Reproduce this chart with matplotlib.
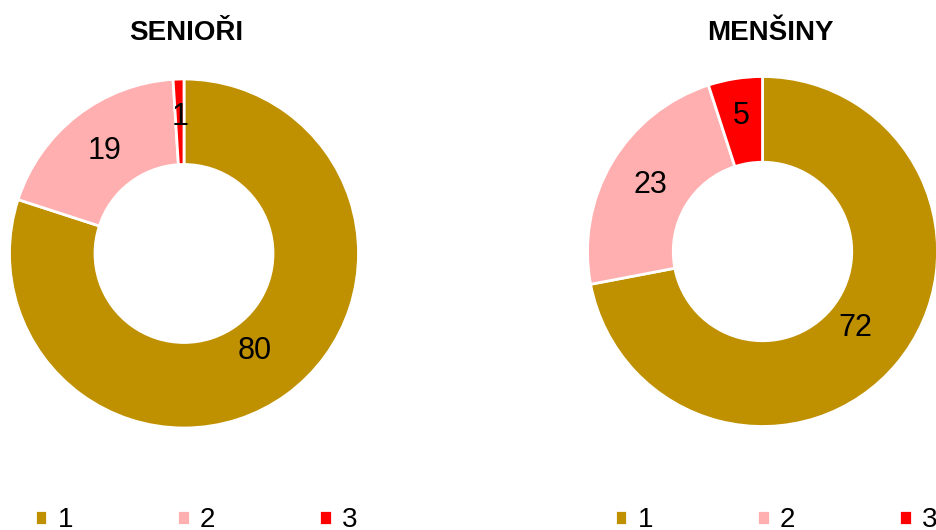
import numpy as np
import matplotlib
matplotlib.use('Agg')
import matplotlib.pyplot as plt

plt.rcParams['font.family'] = ['Liberation Sans', 'DejaVu Sans']

# data
categories = ['1', '2', '3']
seniori = [80, 19, 1]
mensiny = [72, 23, 5]
titles = ['SENIOŘI', 'MENŠINY']
colors = ['#BF9000', '#FFAFAF', '#FF0000']

W, H = 937, 530
fig = plt.figure(figsize=(W / 100, H / 100), dpi=100)

# donut centre (px), outer radius (px)
layout = [(184, 253.5, 174.5), (762.5, 251.5, 175.0)]
label_r = [0.69, 0.745, 0.785]
pad = 1.03


def donut(values, cx, cy, r, title, tx, ty):
    size = 2 * r * pad
    ax = fig.add_axes([(cx - r * pad) / W, (H - cy - r * pad) / H, size / W, size / H])
    wedges, texts = ax.pie(values, colors=colors, startangle=90, counterclock=False,
                           radius=1, labels=[str(v) for v in values], labeldistance=0.7,
                           wedgeprops=dict(width=0.49, edgecolor='white', linewidth=2),
                           textprops=dict(fontsize=22, color='black'))
    for w, t, d in zip(wedges, texts, label_r):
        ang = np.deg2rad((w.theta1 + w.theta2) / 2)
        t.set_position((d * np.cos(ang), d * np.sin(ang)))
        t.set_ha('center')
        t.set_va('center')
    ax.set_xlim(-pad, pad)
    ax.set_ylim(-pad, pad)
    ax.set_aspect('equal')
    ax.axis('off')
    fig.text(tx / W, 1 - ty / H, title, fontsize=20, fontweight='bold',
             ha='center', va='baseline')
    return wedges


w1 = donut(seniori, *layout[0], titles[0], 186.5, 39.5)
w2 = donut(mensiny, *layout[1], titles[1], 770.5, 40)

for wedges, lx in [(w1, 196), (w2, 776)]:
    fig.legend(wedges, categories, loc='center', bbox_to_anchor=(lx / W, 1 - 520 / H),
               ncol=3, frameon=False, fontsize=20, handlelength=0.45, handleheight=0.45,
               handletextpad=0.36, columnspacing=3.75, borderpad=0)

fig.savefig('out.png', dpi=100)
